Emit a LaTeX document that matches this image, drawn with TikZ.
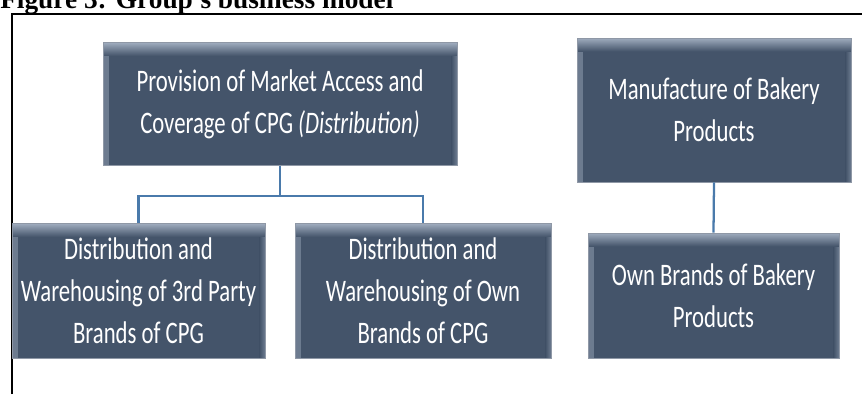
\documentclass[tikz,border=0pt]{standalone}
\usepackage{fontspec}
\usepackage{tikz}
\usetikzlibrary{positioning}
\newfontfamily\boxfont[FakeStretch=0.725]{Carlito}
\newfontfamily\capfont{Liberation Serif}
\definecolor{slatebox}{HTML}{44546A}
\definecolor{slatetop}{HTML}{9FACBE}
\definecolor{linkblue}{HTML}{4A7AAB}

\begin{document}
\begin{tikzpicture}[x=0.75pt, y=-0.75pt, inner sep=0pt,
  box/.style={rectangle, fill=slatebox, draw=slatebox!60!white, line width=0.6pt, text=white, align=center,
    font=\boxfont\fontsize{23.5}{31.5}\selectfont,
    path picture={
      \fill[left color=slatetop!45!slatebox, right color=slatebox]
        (path picture bounding box.north west) rectangle ([xshift=4pt]path picture bounding box.south west);
      \fill[right color=slatetop!45!slatebox, left color=slatebox]
        ([xshift=-4pt]path picture bounding box.north east) rectangle (path picture bounding box.south east);
      \fill[top color=slatetop, bottom color=slatebox]
        (path picture bounding box.north west) rectangle ([yshift=-10pt]path picture bounding box.north east);}},
  link/.style={draw=linkblue, line width=1.7pt}]
  \useasboundingbox (0,0) rectangle (862,394);
  \node[anchor=base west, font=\capfont\bfseries\fontsize{20.5}{24}\selectfont] (title) at (0,8) {Figure 3: Group's business model};
  \draw[line width=1.5pt] (11.5,394) -- (11.5,14) -- (862,14);

  \node[box, minimum width=265.5pt, minimum height=92.25pt] (dist) at (280,104) {Provision of Market Access and\\ Coverage of CPG \textit{(Distribution)}};
  \node[box, minimum width=189.75pt, minimum height=101.25pt] (third) at (138.5,291) {Distribution and\\ Warehousing of 3rd Party\\ Brands of CPG};
  \node[box, minimum width=192pt, minimum height=101.25pt] (own) at (423,291) {Distribution and\\ Warehousing of Own\\ Brands of CPG};
  \node[box, minimum width=205.5pt, minimum height=108pt] (bake) at (714,110) {Manufacture of Bakery\\ Products};
  \node[box, minimum width=188.25pt, minimum height=93.75pt] (ownbake) at (713.5,295.5) {Own Brands of Bakery\\ Products};

  \coordinate (bus) at (280,196);
  \draw[link] (dist.south) -- (bus) -| (third.north);
  \draw[link] (bus) -| (own.north);
  \draw[link] (bake.south) -- (ownbake.north);
\end{tikzpicture}
\end{document}
